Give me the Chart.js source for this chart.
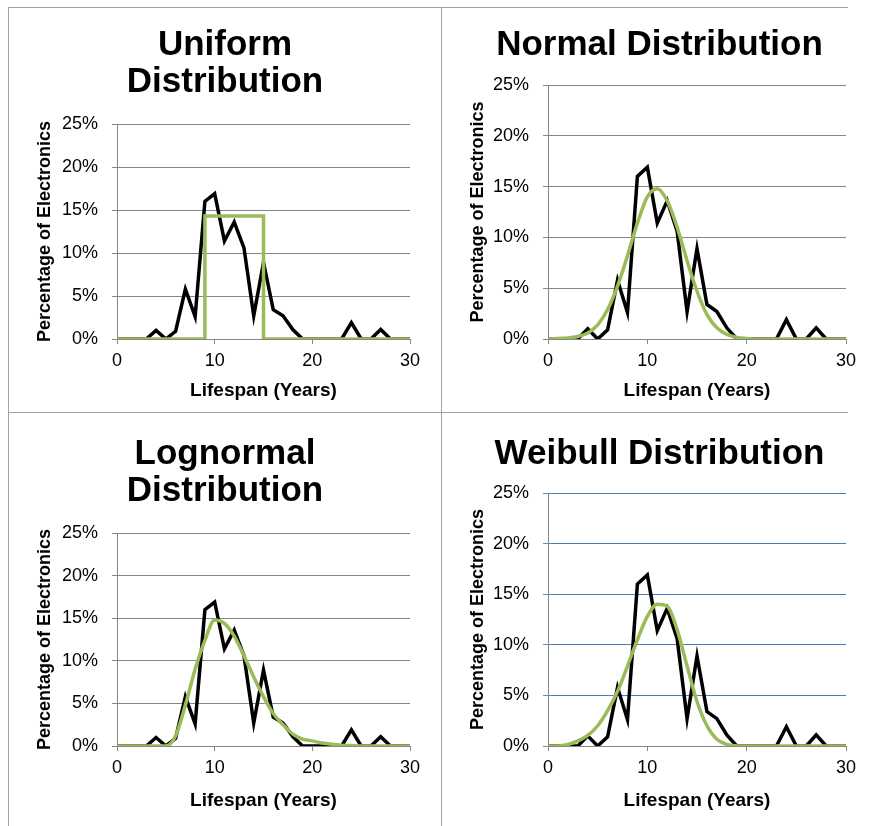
<!DOCTYPE html>
<html>
<head>
<meta charset="utf-8">
<title>Lifespan distributions</title>
<script src="https://cdn.jsdelivr.net/npm/chart.js@4.4.1/dist/chart.umd.min.js"></script>
<style>
  html, body { margin: 0; padding: 0; background: #fff; overflow: hidden; }
  #page { position: relative; width: 870px; height: 826px; overflow: hidden; }
  #page canvas { position: absolute; }
  .rule { position: absolute; background: #a3a3a3; }
</style>
</head>
<body>
<div id="page">
  <canvas id="uniformChart" width="450" height="404" style="left:0;top:8px;width:450px;height:404px"></canvas>
  <canvas id="normalChart" width="437" height="404" style="left:441px;top:8px;width:437px;height:404px"></canvas>
  <canvas id="lognormalChart" width="450" height="414" style="left:0;top:412px;width:450px;height:414px"></canvas>
  <canvas id="weibullChart" width="437" height="414" style="left:441px;top:412px;width:437px;height:414px"></canvas>

  <div class="rule" style="left:8px;top:7px;width:840px;height:1px"></div>
  <div class="rule" style="left:8px;top:412px;width:840px;height:1px"></div>
  <div class="rule" style="left:8px;top:7px;width:1px;height:819px"></div>
  <div class="rule" style="left:441px;top:7px;width:1px;height:819px"></div>
</div>

<script>
// lifespan in years (x axis)
const years = [0, 1, 2, 3, 4, 5, 6, 7, 8, 9, 10, 11, 12, 13, 14, 15, 16, 17, 18, 19, 20,
               21, 22, 23, 24, 25, 26, 27, 28, 29, 30];

// observed share of electronics per year (black line), in %
const observedPct = [0, 0, 0, 0, 1.0, 0, 0.9, 5.8, 2.6, 16.0, 16.9, 11.4, 13.6, 10.6, 2.7, 8.9,
                     3.4, 2.7, 1.1, 0, 0, 0, 0, 0, 1.9, 0, 0, 1.1, 0, 0, 0];

// fitted curves (green), in %
const uniformX   = [0, 9, 9, 15, 15, 30];
const uniformPct = [0, 0, 14.3, 14.3, 0, 0];

const normalPct = [0, 0.05, 0.1, 0.25, 0.6, 1.4, 2.9, 5.2, 8.2, 11.4, 14.0, 14.8, 13.6, 11.0, 7.7, 4.7,
                   2.4, 1.1, 0.45, 0.15, 0.05, 0, 0, 0, 0, 0, 0, 0, 0, 0, 0];

const lognormalPct = [0, 0, 0, 0, 0, 0, 1.2, 4.8, 9.0, 12.4, 14.8, 14.4, 12.9, 10.6, 8.1, 5.8,
                      3.8, 2.5, 1.4, 0.8, 0.6, 0.35, 0.2, 0.1, 0.05, 0, 0, 0, 0, 0, 0];

const weibullPct = [0, 0, 0.15, 0.5, 1.05, 2.0, 3.5, 5.4, 7.9, 10.5, 12.8, 14.0, 13.8, 11.5, 7.9, 4.4,
                    2.0, 0.66, 0.15, 0, 0, 0, 0, 0, 0, 0, 0, 0, 0, 0, 0];

// tick labels
const xTicks = [0, 10, 20, 30];
const yTicks = [0, 5, 10, 15, 20, 25];

const FONT = "Arial, 'Liberation Sans', sans-serif";
const GRAY = '#868686';
const GREEN = '#9bbb59';

function toPoints(xs, ys) {
    return xs.map((x, i) => ({ x: x, y: ys[i] }));
}

function makeChart(canvasId, cfg) {
    const ctx = document.getElementById(canvasId).getContext('2d');
    return new Chart(ctx, {
        type: 'line',
        data: {
            datasets: [
                {
                    // fitted distribution, drawn on top
                    data: cfg.fit,
                    xAxisID: 'x',
                    yAxisID: 'y',
                    borderColor: GREEN,
                    borderWidth: 3.5,
                    pointRadius: 0,
                    tension: cfg.smooth ? 0.4 : 0,
                    cubicInterpolationMode: cfg.smooth ? 'monotone' : 'default',
                    fill: false
                },
                {
                    data: toPoints(years, observedPct),
                    xAxisID: 'x',
                    yAxisID: 'y',
                    borderColor: '#000000',
                    borderWidth: 3.5,
                    pointRadius: 0,
                    tension: 0,
                    fill: false
                }
            ]
        },
        options: {
            responsive: false,
            animation: false,
            layout: { padding: 0 },
            plugins: {
                legend: { display: false },
                tooltip: { enabled: false },
                title: {
                    display: true,
                    text: cfg.title,
                    color: '#000',
                    font: { family: FONT, size: 35, weight: 'bold', lineHeight: '37px' },
                    padding: cfg.titlePad
                }
            },
            scales: {
                x: {
                    type: 'linear',
                    min: 0,
                    max: 30,
                    afterBuildTicks: s => { s.ticks = xTicks.map(v => ({ value: v })); },
                    afterFit: s => { s.height = cfg.xHeight; },
                    grid: { drawOnChartArea: false, drawTicks: true, tickLength: 5, color: GRAY, tickColor: GRAY },
                    border: { display: true, color: GRAY, width: 1 },
                    ticks: { color: '#000', padding: 6, maxRotation: 0, font: { family: FONT, size: 18 } },
                    title: {
                        display: true,
                        text: 'Lifespan (Years)',
                        color: '#000',
                        font: { family: FONT, size: 19, weight: 'bold' },
                        padding: { top: 0, bottom: cfg.xTitlePad }
                    }
                },
                y: {
                    type: 'linear',
                    position: 'left',
                    min: 0,
                    max: 25,
                    afterBuildTicks: s => { s.ticks = yTicks.map(v => ({ value: v })); },
                    afterFit: s => { s.width = cfg.yWidth; },
                    grid: { color: cfg.gridColor, lineWidth: 1, drawTicks: true, tickLength: 5, tickColor: GRAY },
                    border: { display: true, color: GRAY, width: 1 },
                    ticks: {
                        color: '#000',
                        padding: 14,
                        font: { family: FONT, size: 18 },
                        callback: v => v + '%'
                    },
                    title: {
                        display: true,
                        text: 'Percentage of Electronics',
                        color: '#000',
                        font: { family: FONT, size: 18, weight: 'bold' },
                        padding: { top: cfg.yTitlePad, bottom: 0 }
                    }
                },
                // empty right-hand strip so the title centres like the original
                yR: {
                    type: 'linear',
                    position: 'right',
                    afterFit: s => { s.width = cfg.rightW; },
                    grid: { display: false, drawTicks: false },
                    border: { display: false },
                    ticks: { display: false }
                }
            }
        }
    });
}

window.addEventListener('DOMContentLoaded', () => {
    makeChart('uniformChart', {
        title: ['Uniform', 'Distribution'],
        fit: toPoints(uniformX, uniformPct),
        smooth: false,
        gridColor: GRAY,
        titlePad: { top: 18.5, bottom: 23.5 },
        yWidth: 117, xHeight: 73, rightW: 40, yTitlePad: 34, xTitlePad: 10
    });
    makeChart('normalChart', {
        title: 'Normal Distribution',
        fit: toPoints(years, normalPct),
        smooth: true,
        gridColor: GRAY,
        titlePad: { top: 18.5, bottom: 21.5 },
        yWidth: 107, xHeight: 73, rightW: 32, yTitlePad: 26, xTitlePad: 10
    });
    makeChart('lognormalChart', {
        title: ['Lognormal', 'Distribution'],
        fit: toPoints(years, lognormalPct),
        smooth: true,
        gridColor: GRAY,
        titlePad: { top: 23.5, bottom: 23.5 },
        yWidth: 117, xHeight: 80, rightW: 40, yTitlePad: 34, xTitlePad: 14
    });
    makeChart('weibullChart', {
        title: 'Weibull Distribution',
        fit: toPoints(years, weibullPct),
        smooth: true,
        gridColor: '#4a7ebb',
        titlePad: { top: 23.5, bottom: 20.5 },
        yWidth: 107, xHeight: 80, rightW: 32, yTitlePad: 26, xTitlePad: 14
    });
});
</script>
</body>
</html>
